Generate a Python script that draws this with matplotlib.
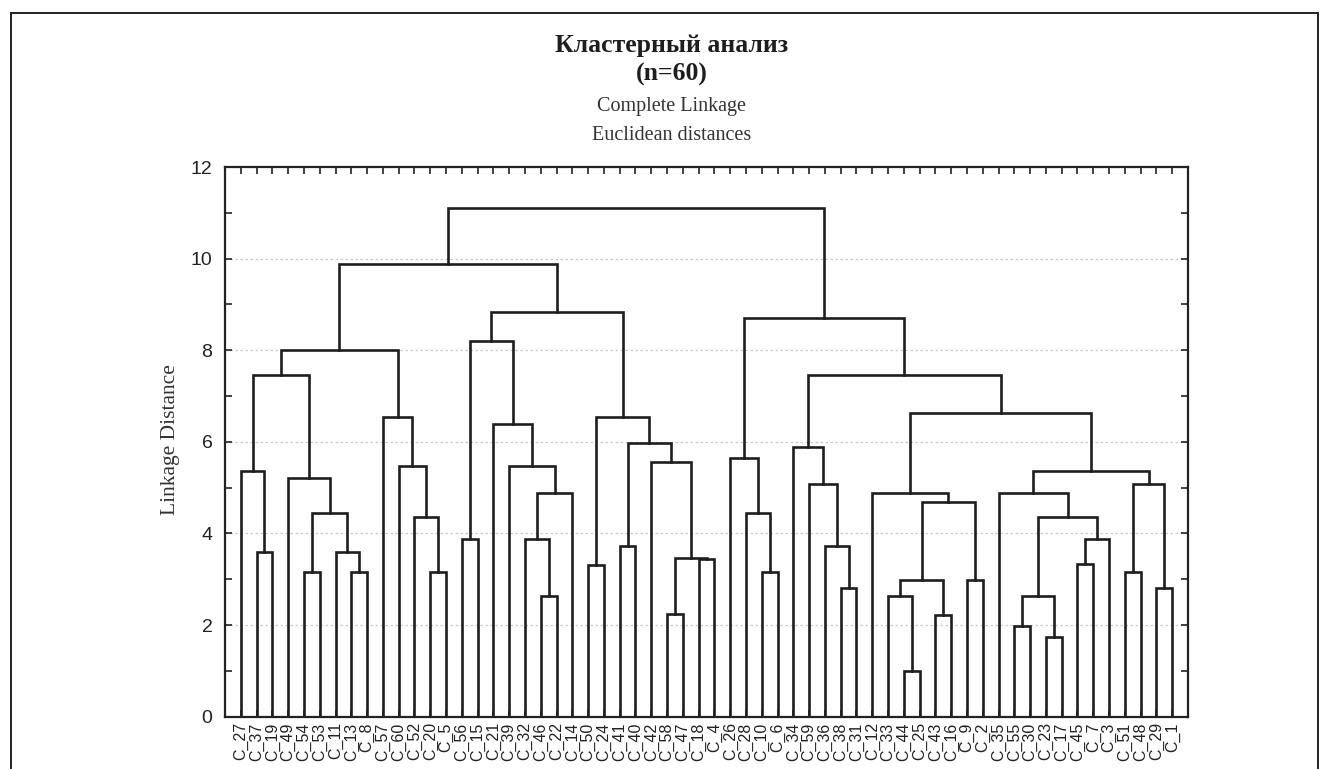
import matplotlib
matplotlib.use("Agg")
import matplotlib.pyplot as plt
from matplotlib.patches import Rectangle
from matplotlib.ticker import MultipleLocator

# ---------------- data ----------------
leaf_labels = ["C_27", "C_37", "C_19", "C_49", "C_54", "C_53", "C_11", "C_13", "C_8", "C_57",
               "C_60", "C_52", "C_20", "C_5", "C_56", "C_15", "C_21", "C_39", "C_32", "C_46",
               "C_22", "C_14", "C_50", "C_24", "C_41", "C_40", "C_42", "C_58", "C_47", "C_18",
               "C_4", "C_26", "C_28", "C_10", "C_6", "C_34", "C_59", "C_36", "C_38", "C_31",
               "C_12", "C_33", "C_44", "C_25", "C_43", "C_16", "C_9", "C_2", "C_35", "C_55",
               "C_30", "C_23", "C_17", "C_45", "C_7", "C_3", "C_51", "C_48", "C_29", "C_1"]

# merges: (left child, right child, linkage distance); int = index of an earlier merge
merge_left = ["C_37", "C_27", "C_54", "C_13", "C_11", 2, "C_49", 1, "C_20", "C_52",
              "C_60", "C_57", 7, "C_56", "C_46", "C_32", 15, "C_39", "C_21", 13,
              "C_50", "C_41", "C_58", "C_18", 22, "C_42", 21, 20, 19, 12,
              "C_10", "C_28", "C_26", "C_38", "C_36", "C_59", "C_34", "C_44", "C_33", "C_43",
              38, "C_9", 40, "C_12", "C_55", "C_23", 44, "C_45", 47, 46,
              "C_35", "C_51", "C_29", 51, 50, 43, 36, 32, 29]
merge_right = ["C_19", 0, "C_53", "C_8", 3, 4, 5, 6, "C_5", 8,
               9, 10, 11, "C_15", "C_22", 14, "C_14", 16, 17, 18,
               "C_24", "C_40", "C_47", "C_4", 23, 24, 25, 26, 27, 28,
               "C_6", 30, 31, "C_31", 33, 34, 35, "C_25", 37, "C_16",
               39, "C_2", 41, 42, "C_30", "C_17", 45, "C_7", "C_3", 48,
               49, "C_48", "C_1", 52, 53, 54, 55, 56, 57]
merge_height = [3.60, 5.36, 3.16, 3.16, 3.60, 4.45, 5.21, 7.47, 3.16, 4.36,
                5.47, 6.55, 8.00, 3.87, 2.64, 3.87, 4.89, 5.48, 6.39, 8.21,
                3.32, 3.73, 2.24, 3.44, 3.46, 5.56, 5.97, 6.55, 8.83, 9.88,
                3.15, 4.45, 5.65, 2.82, 3.73, 5.08, 5.89, 1.00, 2.64, 2.23,
                2.99, 2.98, 4.68, 4.89, 1.98, 1.74, 2.64, 3.33, 3.87, 4.36,
                4.89, 3.15, 2.82, 5.08, 5.36, 6.64, 7.46, 8.70, 11.11]

y_ticks = [0, 2, 4, 6, 8, 10, 12]

# ---------------- figure ----------------
W, H = 1325, 769
fig = plt.figure(figsize=(W / 100, H / 100), dpi=100)
ax = fig.add_axes([225 / W, 1 - 716.7 / H, (1188 - 225) / W, (716.7 - 167) / H])

line_kw = dict(color="#1e1e1e", lw=1.9, solid_capstyle="projecting", solid_joinstyle="miter")

pos = {lab: (i + 1, 0.0) for i, lab in enumerate(leaf_labels)}
node_pos = []
for l, r, h in zip(merge_left, merge_right, merge_height):
    xl, hl = node_pos[l] if isinstance(l, int) else pos[l]
    xr, hr = node_pos[r] if isinstance(r, int) else pos[r]
    ax.plot([xl, xl, xr, xr], [hl, h, h, hr], **line_kw)
    node_pos.append(((xl + xr) / 2, h))

ax.set_xlim(0, len(leaf_labels) + 1)
ax.set_ylim(0, 12)

ax.set_yticks(y_ticks)
ax.set_yticklabels([str(v) for v in y_ticks], fontfamily="Liberation Sans", fontsize=14, color="#222222")
ax.yaxis.set_minor_locator(MultipleLocator(1))
ax.set_xticks(range(1, len(leaf_labels) + 1))
ax.set_xticklabels(leaf_labels, rotation=90, fontfamily="Liberation Sans", fontsize=11.5, color="#222222")

ax.tick_params(axis="y", which="both", direction="in", left=True, right=True, length=5, width=1.2, pad=9, color="#222222")
ax.tick_params(axis="x", which="both", direction="in", top=True, bottom=True, length=5, width=1.2, pad=4, color="#222222")

for s in ax.spines.values():
    s.set_linewidth(1.6)
    s.set_color("#222222")

for v in y_ticks[1:-1]:
    ax.axhline(v, color="#c8c8c8", lw=0.9, ls=(0, (2, 2)), zorder=0)

# titles
tx = 672 / W
fig.text(tx, 1 - 52 / H, "Кластерный анализ", ha="center", va="baseline",
         fontfamily="Liberation Serif", fontweight="bold", fontsize=18.5, color="#1e1e1e")
fig.text(tx, 1 - 81 / H, "(n=60)", ha="center", va="baseline",
         fontfamily="Liberation Serif", fontweight="bold", fontsize=18.5, color="#1e1e1e")
fig.text(tx, 1 - 111 / H, "Complete Linkage", ha="center", va="baseline",
         fontfamily="Liberation Serif", fontsize=14.5, color="#333333")
fig.text(tx, 1 - 140 / H, "Euclidean distances", ha="center", va="baseline",
         fontfamily="Liberation Serif", fontsize=14.5, color="#333333")

fig.text(170 / W, 1 - 440 / H, "Linkage Distance", rotation=90, ha="center", va="center",
         fontfamily="Liberation Serif", fontsize=15.5, color="#333333")

# outer frame
fig.patches.append(Rectangle((11 / W, -0.05), (1318 - 11) / W, 1.05 - 13 / H, transform=fig.transFigure,
                             fill=False, edgecolor="#222222", lw=1.4))

fig.savefig("out.png", dpi=100)
